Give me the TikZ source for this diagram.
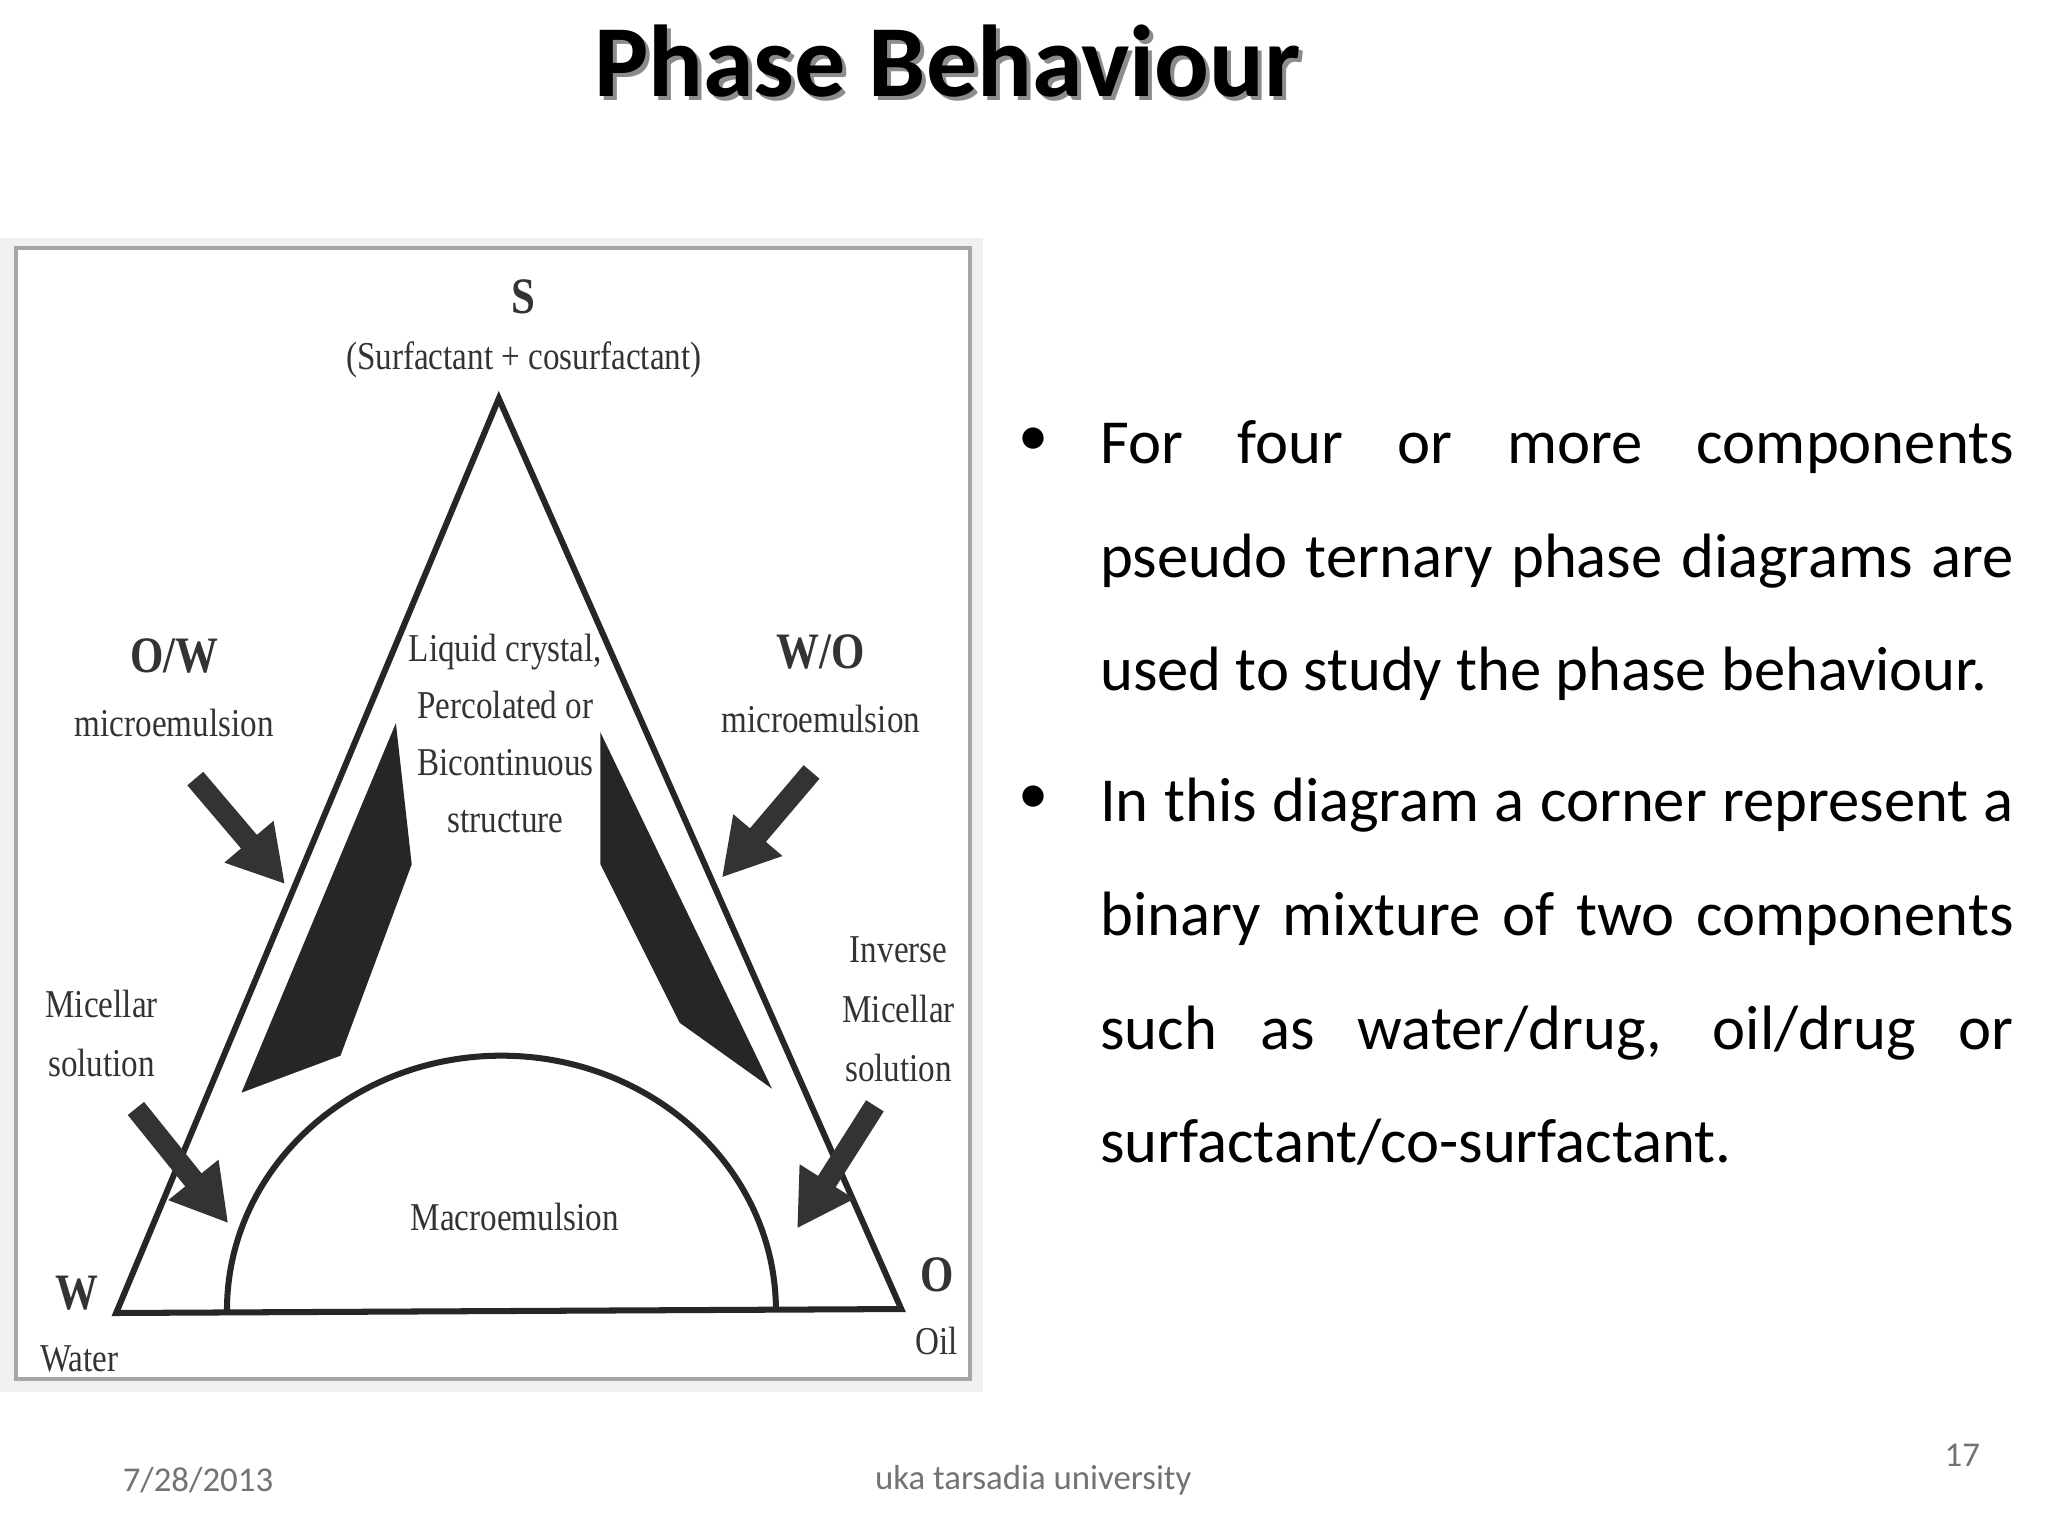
\documentclass[tikz,border=0pt]{standalone}
\usepackage{fontspec}
\setmainfont{Carlito}
\newfontfamily\dfont[FakeStretch=0.84]{Liberation Serif}
\usetikzlibrary{arrows.meta}
\begin{document}
\begin{tikzpicture}[x=0.01cm,y=-0.01cm,
 lbl/.style={font=\dfont\fontsize{8.5}{10}\selectfont,text=black!80,inner sep=0},
 blbl/.style={font=\dfont\bfseries\fontsize{11}{12}\selectfont,text=black!80,inner sep=0},
 darr/.style={line width=4.5pt,black!80,-{Triangle[length=12pt,width=13pt]}},
 foot/.style={font=\fontsize{7.5}{9}\selectfont,text=black!55,inner sep=0},
 body/.style={font=\fontsize{13.5}{24.5}\selectfont,execute at begin node={\hyphenpenalty=10000\relax},anchor=north west,inner sep=0,text width=6.92cm,align=justify}]
\useasboundingbox (0,0) rectangle (1552,1164);
\fill[white] (0,0) rectangle (1552,1164);
% title
\node[font=\bfseries\fontsize{22}{26}\selectfont,text=black!45] at (721,49) {Phase Behaviour};
\node (title) [font=\bfseries\fontsize{22}{26}\selectfont] at (718,46) {Phase Behaviour};
% diagram frame
\fill[black!6] (0,180) rectangle (745,1055);
\draw[fill=white,draw=black!35,line width=1pt] (12,188) rectangle (735,1045);
% triangle
\coordinate (S) at (378,302); \coordinate (W) at (88,995); \coordinate (O) at (683,992);
\draw[line width=1.3pt,black!85] (S) -- (W) -- (O) -- cycle;
\draw[line width=1.3pt,black!85] (172,993) arc[start angle=180,end angle=360,x radius=208,y radius=193];
\fill[black!85] (300,548) -- (312,655) -- (258,800) -- (183,828) -- cycle;
\fill[black!85] (455,555) -- (455,655) -- (515,775) -- (585,825) -- cycle;
\coordinate (a1) at (148,590); \coordinate (a2) at (216,670);
\coordinate (b1) at (615,585); \coordinate (b2) at (547,665);
\coordinate (c1) at (103,840); \coordinate (c2) at (173,927);
\coordinate (d1) at (663,838); \coordinate (d2) at (604,931);
\draw[darr] (a1) -- (a2); \draw[darr] (b1) -- (b2);
\draw[darr] (c1) -- (c2); \draw[darr] (d1) -- (d2);
% labels
\node (sl) [blbl] at (397,225) {S};
\node (sfull) [lbl] at (397,273) {(Surfactant + cosurfactant)};
\node (ow) [blbl] at (132,497) {O/W};
\node (owm) [lbl] at (132,548) {microemulsion};
\node (wo) [blbl] at (622,494) {W/O};
\node (wom) [lbl] at (622,545) {microemulsion};
\node (lc) [lbl,align=center,font=\dfont\fontsize{8.5}{12.3}\selectfont] at (383,556) {Liquid crystal,\\Percolated or\\Bicontinuous\\structure};
\node (mic) [lbl,align=center,font=\dfont\fontsize{8.5}{12.8}\selectfont] at (77,783) {Micellar\\solution};
\node (inv) [lbl,align=center,font=\dfont\fontsize{8.5}{12.8}\selectfont] at (681,765) {Inverse\\Micellar\\solution};
\node (mac) [lbl] at (390,922) {Macroemulsion};
\node (wl) [blbl] at (58,980) {W};
\node (wat) [lbl] at (60,1030) {Water};
\node (ol) [blbl] at (710,966) {O};
\node (oil) [lbl] at (710,1016) {Oil};
% bullets
\node (b1n) [font=\fontsize{13}{15}\selectfont] at (783,335) {\textbullet};
\node (t1) [body] at (833,318) {For four or more components pseudo ternary phase diagrams are used to study the phase behaviour.};
\node (b2n) [font=\fontsize{13}{15}\selectfont] at (783,606) {\textbullet};
\node (t2) [body] at (833,589) {In this diagram a corner represent a binary mixture of two components such as water/drug, oil/drug or surfactant/co-surfactant.};
% footer
\node (date) [foot] at (150,1122) {7/28/2013};
\node (uni) [foot] at (783,1122) {uka tarsadia university};
\node (pg) [foot] at (1487,1103) {17};
\end{tikzpicture}
\end{document}
